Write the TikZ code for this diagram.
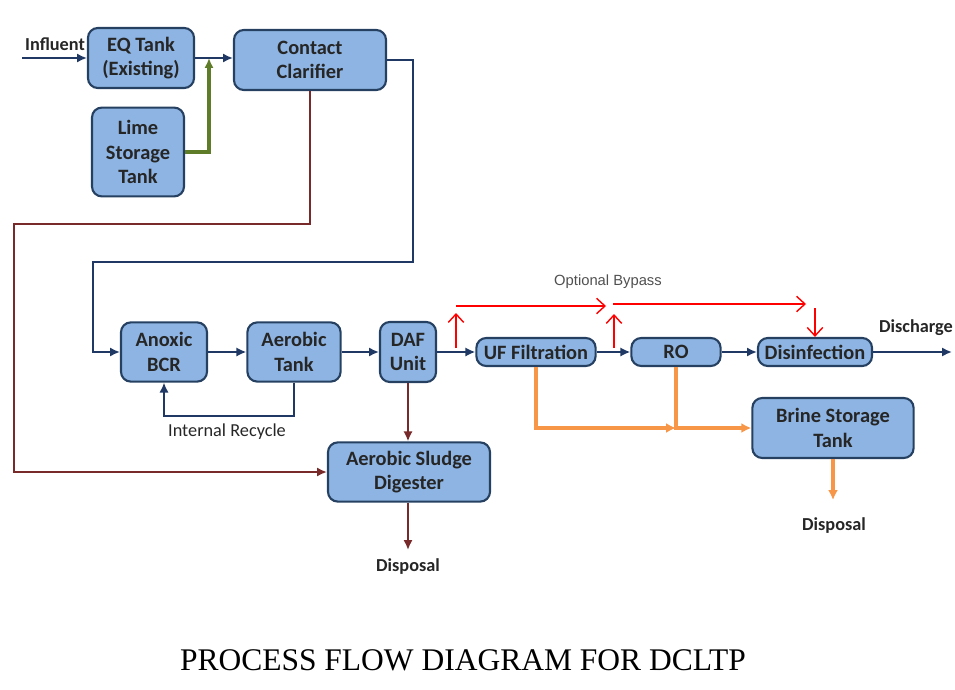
\documentclass[tikz,border=0pt]{standalone}
\usepackage{fontspec}
\setmainfont{Carlito}
\newfontfamily\titlefont{Liberation Serif}
\newfontfamily\notefont{Liberation Sans}
\usepackage{xcolor}
\usetikzlibrary{arrows.meta, positioning}

\definecolor{boxfill}{RGB}{141,180,226}
\definecolor{boxline}{RGB}{37,64,97}
\definecolor{pipeblue}{RGB}{31,56,100}
\definecolor{sludgered}{RGB}{120,42,42}
\definecolor{limegreen}{RGB}{95,125,40}
\definecolor{brineorange}{RGB}{247,150,70}
\definecolor{notegray}{RGB}{80,80,80}

\tikzset{
    unit/.style={draw=boxline, fill=boxfill, line width=1.5pt, rounded corners=7pt,
        align=center, inner sep=0pt, text=black!85,
        font=\fontsize{14.5}{17.5}\selectfont\bfseries},
    pipe/.style={draw=pipeblue, line width=1.7pt, -{Latex[length=7pt,width=6.5pt]}},
    sludge/.style={draw=sludgered, line width=1.8pt, -{Latex[length=7pt,width=6.5pt]}},
    limefeed/.style={draw=limegreen, line width=2.2pt, -{Latex[length=7pt,width=6.5pt]}},
    brine/.style={draw=brineorange, line width=2.4pt, -{Latex[length=7pt,width=7pt]}},
    bypass/.style={draw=red, line width=1pt, -{Straight Barb[length=6pt,width=11pt]}},
    tag/.style={font=\fontsize{13}{15}\selectfont\bfseries, text=black!85}
}

\begin{document}
\begin{tikzpicture}[x=0.025cm, y=-0.025cm]
    \useasboundingbox (0,0) rectangle (955,690);

    \node[unit, minimum width=2.65cm, minimum height=1.5cm] (eq) at (141,58) {EQ Tank\\(Existing)};
    \node[unit, minimum width=3.8cm, minimum height=1.5cm] (cc) at (310,60) {Contact\\Clarifier};
    \node[unit, minimum width=2.3cm, minimum height=2.22cm] (lime) at (138,152) {Lime\\Storage\\Tank};

    \node[unit, minimum width=2.15cm, minimum height=1.48cm] (anox) at (164,352) {Anoxic\\BCR};
    \node[unit, minimum width=2.33cm, minimum height=1.48cm] (aer) at (294,352) {Aerobic\\Tank};
    \node[unit, minimum width=1.4cm, minimum height=1.5cm] (daf) at (408,352) {DAF\\Unit};
    \node[unit, minimum width=2.98cm, minimum height=0.7cm] (uf) at (536,352) {UF Filtration};
    \node[unit, minimum width=2.23cm, minimum height=0.7cm] (ro) at (676,352) {RO};
    \node[unit, minimum width=2.85cm, minimum height=0.7cm] (dis) at (815,352) {Disinfection};
    \node[unit, minimum width=4.03cm, minimum height=1.5cm] (brine) at (833,428) {Brine Storage\\Tank};
    \node[unit, minimum width=4.05cm, minimum height=1.48cm] (dig) at (409,472) {Aerobic Sludge\\Digester};

    \node[tag] (inf) at (55,44) {Influent};
    \node[tag] (dsc) at (916,328) {Discharge};
    \node[tag] (disp1) at (408,567) {Disposal};
    \node[tag] (disp2) at (834,526) {Disposal};
    \node[font=\fontsize{13}{15}\selectfont, text=black!85] (recyc) at (227,432) {Internal Recycle};
    \node[font=\notefont\fontsize{10.5}{12}\selectfont, text=notegray] (opt) at (608,282) {Optional Bypass};

    \coordinate (instart) at (22,58);
    \coordinate (mix) at (209,58);
    \coordinate (outend) at (952,352);
    \coordinate (sink1) at (408,550);
    \coordinate (sink2) at (833,500);

    \draw[pipe] (instart) -- (eq.west |- instart);
    \draw[pipe] (eq.east |- mix) -- (cc.west |- mix);
    \draw[limefeed] (lime.east) -| (mix);
    \draw[pipe, line width=2pt] (cc.east) -| (413,262) -| (93,300) |- (anox.west);
    \draw[sludge] (cc.south) |- (14,224) |- (dig.west);

    \draw[pipe] (anox) -- (aer);
    \draw[pipe] (aer) -- (daf);
    \draw[pipe] (daf) -- (uf);
    \draw[pipe] (uf) -- (ro);
    \draw[pipe] (ro) -- (dis);
    \draw[pipe] (dis) -- (outend);
    \draw[pipe, line width=1.2pt] (aer.south) -- ++(0,33) -| (anox.south);

    \draw[sludge] (daf.south) -- (daf.south |- dig.north);
    \draw[sludge] (dig.south -| sink1) -- (sink1);

    \draw[brine] (uf.south) |- (ro.south |- brine.west);
    \draw[brine] (ro.south) |- (brine.west);
    \draw[brine] (brine.south) -- (sink2);

    \coordinate (up1a) at (456,348);
    \coordinate (up1b) at (456,313);
    \coordinate (run1a) at (456,306);
    \coordinate (run1b) at (606,306);
    \coordinate (up2a) at (614,348);
    \coordinate (up2b) at (614,314);
    \coordinate (run2a) at (613,304);
    \coordinate (run2b) at (806,304);
    \coordinate (down2) at (815,308);

    \draw[bypass] (up1a) -- (up1b);
    \draw[bypass] (run1a) -- (run1b);
    \draw[bypass] (up2a) -- (up2b);
    \draw[bypass] (run2a) -- (run2b);
    \draw[bypass] (down2) -- (dis.north);

    \node[font=\titlefont\fontsize{22.4}{26}\selectfont] (title) at (463,660) {PROCESS FLOW DIAGRAM FOR DCLTP};
\end{tikzpicture}
\end{document}
